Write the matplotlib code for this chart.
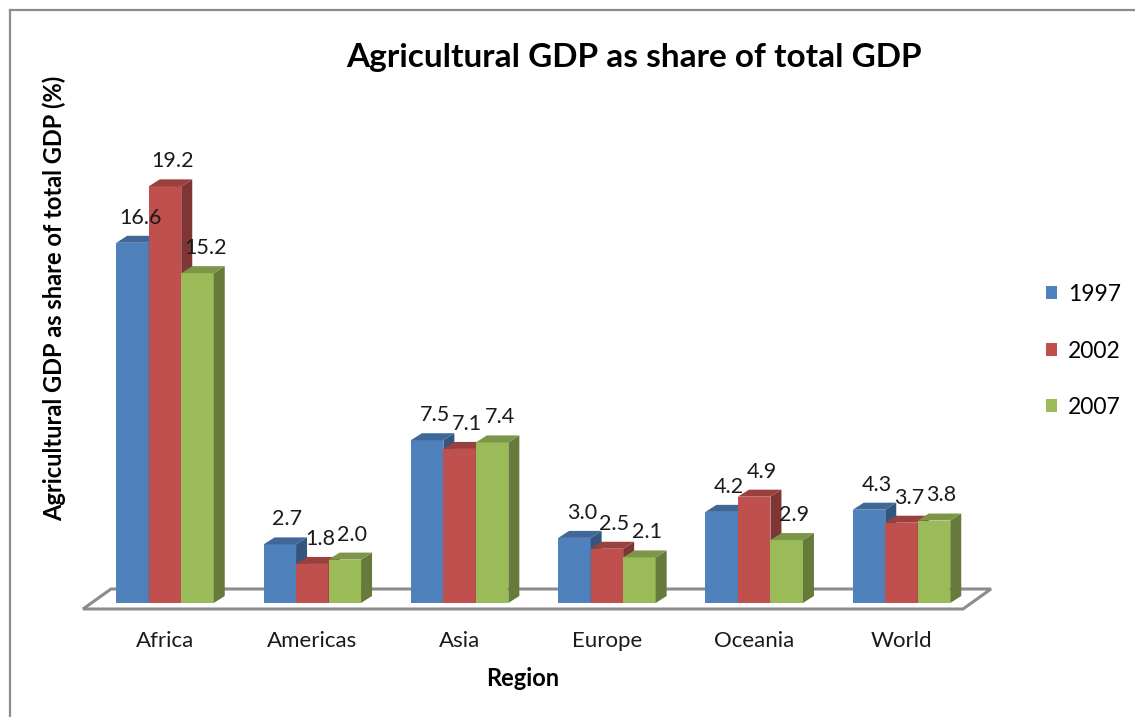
import matplotlib
matplotlib.use('Agg')
import matplotlib.pyplot as plt
from matplotlib.patches import Polygon, Patch
from matplotlib.lines import Line2D
import numpy as np
from matplotlib.colors import to_rgb

# ---- data ----
regions = ['Africa', 'Americas', 'Asia', 'Europe', 'Oceania', 'World']
years = ['1997', '2002', '2007']
v1997 = [16.6, 2.7, 7.5, 3.0, 4.2, 4.3]
v2002 = [19.2, 1.8, 7.1, 2.5, 4.9, 3.7]
v2007 = [15.2, 2.0, 7.4, 2.1, 2.9, 3.8]
series = [v1997, v2002, v2007]
colors = ['#4F81BD', '#C0504D', '#9BBB59']

plt.rcParams['font.family'] = ['Lato', 'DejaVu Sans']

W, H = 1135, 717
fig = plt.figure(figsize=(W / 100, H / 100), dpi=100)

# layout (pixels)
x0_px, step_px = 165.0, 147.3
zero_px, unit_px = 603.0, 21.7
L_px, R_px = 75, 1005
ymax = 20
ax = fig.add_axes([L_px / W, (H - zero_px) / H, (R_px - L_px) / W, ymax * unit_px / H])
ax.set_xlim((L_px - x0_px) / step_px, (R_px - x0_px) / step_px)
ax.set_ylim(0, ymax)
for s in ax.spines.values():
    s.set_visible(False)
ax.tick_params(left=False, labelleft=False, bottom=False)

# conversions
def px_x(p):
    return p / step_px

def px_y(p):
    return p / unit_px

bw = px_x(32.5)
ddx, ddy = px_x(11), px_y(7)

def shade(c, f):
    r, g, b = to_rgb(c)
    return (r * f, g * f, b * f)

# floor
fl, fr = px_x(83 - x0_px), px_x(963 - x0_px)
fy = px_y(-6)
fdx, fdy = px_x(28), px_y(20)
floor = Polygon([(fl, fy), (fr, fy), (fr + fdx, fy + fdy), (fl + fdx, fy + fdy)],
                closed=True, facecolor='white', edgecolor='#8c8c8c', lw=2.2,
                clip_on=False, zorder=0.5)
ax.add_patch(floor)

idx = np.arange(len(regions))
for k, (vals, col) in enumerate(zip(series, colors)):
    xc = idx + (k - 1) * bw
    ax.bar(xc, vals, width=bw, color=col, edgecolor='none', zorder=1, clip_on=False)
    for x, v in zip(xc, vals):
        xl, xr = x - bw / 2, x + bw / 2
        side = Polygon([(xr, 0), (xr + ddx, ddy), (xr + ddx, v + ddy), (xr, v)],
                       closed=True, facecolor=shade(col, 0.66), edgecolor='none',
                       zorder=1, clip_on=False)
        top = Polygon([(xl, v), (xr, v), (xr + ddx, v + ddy), (xl + ddx, v + ddy)],
                      closed=True, facecolor=shade(col, 0.8), edgecolor='none',
                      zorder=1, clip_on=False)
        ax.add_patch(side)
        ax.add_patch(top)
        ax.annotate(f'{v:.1f}', xy=(x + ddx / 2, v + ddy), xytext=(1.5, 13),
                    textcoords='offset points', ha='center', va='center',
                    fontsize=15.5, color='#1a1a1a', zorder=5, annotation_clip=False)

ax.set_xticks(idx)
ax.set_xticklabels(regions, fontsize=16, color='#1a1a1a')
ax.tick_params(axis='x', pad=17)

# texts
fig.text(634 / W, 1 - 57 / H, 'Agricultural GDP as share of total GDP',
         ha='center', va='center', fontsize=24, fontweight='bold', color='black')
fig.text(54 / W, 1 - 298 / H, 'Agricultural GDP as share of total GDP (%)',
         ha='center', va='center', rotation=90, fontsize=17, fontweight='bold', color='black')
fig.text(523 / W, 1 - 678 / H, 'Region', ha='center', va='center',
         fontsize=17, fontweight='bold', color='black')

# legend
handles = [Patch(facecolor=c, edgecolor='none') for c in colors]
fig.legend(handles, years, loc='center left', bbox_to_anchor=(1046 / W, 1 - 351 / H),
           frameon=False, fontsize=16.5, labelspacing=1.55, handlelength=0.5,
           handleheight=0.5, handletextpad=0.45, borderaxespad=0, borderpad=0)

# figure border (left and top visible)
fig.add_artist(Line2D([10 / W, 10 / W], [0, 1 - 10 / H], color='#8c8c8c', lw=1.6,
                      transform=fig.transFigure))
fig.add_artist(Line2D([10 / W, 1], [1 - 10 / H, 1 - 10 / H], color='#8c8c8c', lw=1.6,
                      transform=fig.transFigure))

fig.savefig('out.png', dpi=100, facecolor='white')
